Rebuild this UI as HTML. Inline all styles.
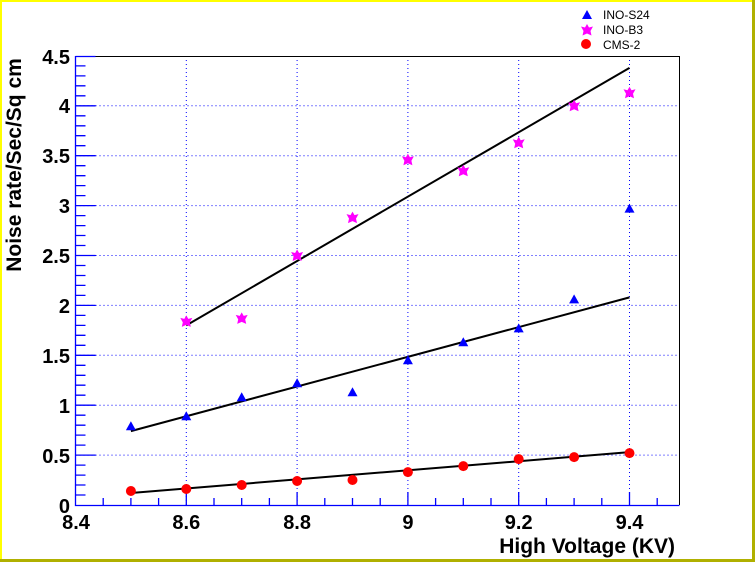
<!DOCTYPE html>
<html><head><meta charset="utf-8"><style>
html,body{margin:0;padding:0;background:#fff}
svg{display:block}
text{font-family:"Liberation Sans",Arial,sans-serif}
</style></head><body>
<svg width="755" height="562" viewBox="0 0 755 562" xmlns="http://www.w3.org/2000/svg">
<defs>
<polygon id="tri" points="0,-5 5,4 -5,4" fill="#0000ff"/>
<polygon id="star" points="0,-6 2,-2.5 6,-3.5 3.5,1 4.5,5.5 0,3.5 -4.5,5.5 -3.5,1 -6,-3.5 -2,-2.5" fill="#ff00ff"/>
<circle id="dot" r="5" fill="#ff0000"/>
</defs>
<rect x="0" y="0" width="755" height="562" fill="#fff"/>
<rect x="0" y="0" width="755" height="2" fill="#ffff00"/>
<rect x="0" y="0" width="2" height="562" fill="#ffff00"/>
<rect x="0" y="559" width="755" height="3" fill="#b0b000"/>
<rect x="752" y="0" width="3" height="562" fill="#b0b000"/>
<g stroke="#0000ff" stroke-width="1" stroke-dasharray="1,3" fill="none">
<path d="M186.3,56V505M297.1,56V505M407.9,56V505M518.7,56V505M629.5,56V505"/>
<path d="M75.5,455.1H679.5M75.5,405.2H679.5M75.5,355.3H679.5M75.5,305.4H679.5M75.5,255.5H679.5M75.5,205.6H679.5M75.5,155.7H679.5M75.5,105.8H679.5"/>
</g>
<path d="M75.5,56.5H679.5V505" stroke="#000" stroke-width="1" fill="none"/>
<path d="M75.5,56V505.5H679.5" stroke="#0000ff" stroke-width="1.3" fill="none"/>
<g stroke="#0000ff" stroke-width="1.3">
<path d="M75.5,495H85.5M75.5,485H85.5M75.5,475.1H85.5M75.5,465.1H85.5M75.5,445.1H85.5M75.5,435.1H85.5M75.5,425.2H85.5M75.5,415.2H85.5M75.5,395.2H85.5M75.5,385.2H85.5M75.5,375.3H85.5M75.5,365.3H85.5M75.5,345.3H85.5M75.5,335.3H85.5M75.5,325.4H85.5M75.5,315.4H85.5M75.5,295.4H85.5M75.5,285.4H85.5M75.5,275.5H85.5M75.5,265.5H85.5M75.5,245.5H85.5M75.5,235.5H85.5M75.5,225.6H85.5M75.5,215.6H85.5M75.5,195.6H85.5M75.5,185.6H85.5M75.5,175.7H85.5M75.5,165.7H85.5M75.5,145.7H85.5M75.5,135.7H85.5M75.5,125.8H85.5M75.5,115.8H85.5M75.5,95.8H85.5M75.5,85.8H85.5M75.5,75.9H85.5M75.5,65.9H85.5"/>
<path d="M75.5,455.1H95.5M75.5,405.2H95.5M75.5,355.3H95.5M75.5,305.4H95.5M75.5,255.5H95.5M75.5,205.6H95.5M75.5,155.7H95.5M75.5,105.8H95.5M75.5,56.5H95.5"/>
<path d="M103.2,505V498M130.9,505V498M158.6,505V498M214,505V498M241.7,505V498M269.4,505V498M324.8,505V498M352.5,505V498M380.2,505V498M435.6,505V498M463.3,505V498M491,505V498M546.4,505V498M574.1,505V498M601.8,505V498M657.2,505V498"/>
<path d="M186.3,505V492M297.1,505V492M407.9,505V492M518.7,505V492M629.5,505V492"/>
</g>
<g font-size="20" font-weight="bold" fill="#000">
<g text-anchor="end">
<text x="70" y="513">0</text>
<text x="70" y="463">0.5</text>
<text x="70" y="413">1</text>
<text x="70" y="363">1.5</text>
<text x="70" y="313">2</text>
<text x="70" y="263">2.5</text>
<text x="70" y="213">3</text>
<text x="70" y="163">3.5</text>
<text x="70" y="113">4</text>
<text x="70" y="64">4.5</text>
</g>
<g text-anchor="middle">
<text x="76" y="529">8.4</text>
<text x="186.3" y="529">8.6</text>
<text x="297.1" y="529">8.8</text>
<text x="407.9" y="529">9</text>
<text x="518.7" y="529">9.2</text>
<text x="629.5" y="529">9.4</text>
</g>
<text x="675" y="553" text-anchor="end" font-size="21">High Voltage (KV)</text>
<text transform="translate(21,165) rotate(-90)" text-anchor="middle" font-size="21">Noise rate/Sec/Sq cm</text>
</g>
<g stroke="#000" stroke-width="2">
<line x1="130.9" y1="431.1" x2="629.5" y2="297.4"/>
<line x1="186.3" y1="325.4" x2="629.5" y2="67.9"/>
<line x1="130.9" y1="493" x2="629.5" y2="452.1"/>
</g>
<use href="#tri" x="130.9" y="426.2"/><use href="#tri" x="186.3" y="416.2"/><use href="#tri" x="241.7" y="397.2"/><use href="#tri" x="297.1" y="383.2"/><use href="#tri" x="352.5" y="392.2"/><use href="#tri" x="407.9" y="360.3"/><use href="#tri" x="463.3" y="342.3"/><use href="#tri" x="518.7" y="328.4"/><use href="#tri" x="574.1" y="299.4"/><use href="#tri" x="629.5" y="208.6"/>
<use href="#star" x="186.3" y="321.4"/><use href="#star" x="241.7" y="318.4"/><use href="#star" x="297.1" y="255.5"/><use href="#star" x="352.5" y="217.6"/><use href="#star" x="407.9" y="159.7"/><use href="#star" x="463.3" y="170.7"/><use href="#star" x="518.7" y="142.7"/><use href="#star" x="574.1" y="105.8"/><use href="#star" x="629.5" y="92.8"/>
<use href="#dot" x="130.9" y="491"/><use href="#dot" x="186.3" y="489"/><use href="#dot" x="241.7" y="485"/><use href="#dot" x="297.1" y="481"/><use href="#dot" x="352.5" y="480"/><use href="#dot" x="407.9" y="472.1"/><use href="#dot" x="463.3" y="466.1"/><use href="#dot" x="518.7" y="459.1"/><use href="#dot" x="574.1" y="457.1"/><use href="#dot" x="629.5" y="453.1"/>
<use href="#tri" x="587" y="15"/>
<use href="#star" x="587" y="30"/>
<use href="#dot" x="586" y="44"/>
<g font-size="12" fill="#000">
<text x="603" y="19">INO-S24</text>
<text x="603" y="34">INO-B3</text>
<text x="603" y="49">CMS-2</text>
</g>
</svg>
</body></html>
